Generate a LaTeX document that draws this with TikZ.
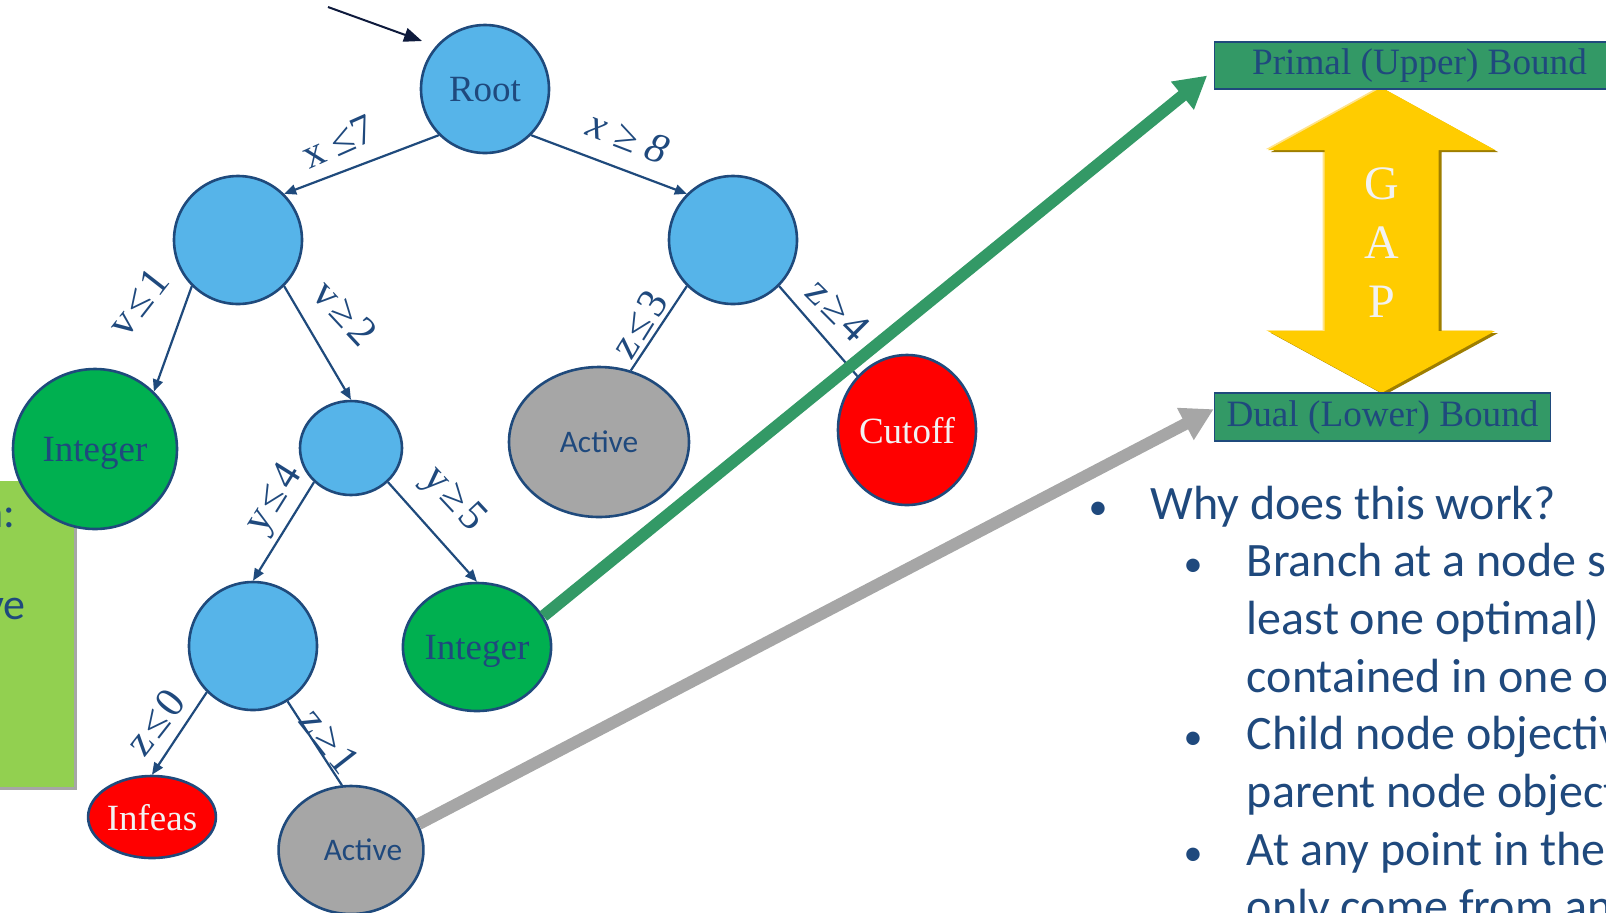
\documentclass[tikz,border=0pt]{standalone}
\usepackage{fontspec}
\setmainfont{Liberation Serif}
\newfontfamily\carlito{Carlito}
\usetikzlibrary{positioning,arrows.meta,calc,shapes.geometric,shadows}

\definecolor{nodeblue}{HTML}{56B4E9}
\definecolor{edgeblue}{HTML}{1F4A7C}
\definecolor{textblue}{HTML}{1F497D}
\definecolor{intgreen}{HTML}{00B050}
\definecolor{actgray}{HTML}{A6A6A6}
\definecolor{cutred}{HTML}{FF0000}
\definecolor{boundgreen}{HTML}{339966}
\definecolor{gapyellow}{HTML}{FFCC00}
\definecolor{gapdark}{HTML}{9E7E00}
\definecolor{gaplight}{HTML}{FFE38A}
\definecolor{notegreen}{HTML}{92D050}
\definecolor{pointernavy}{HTML}{0E1A3C}

\newcommand{\rel}[1]{\kern2pt#1\kern2pt}

\begin{document}
\begin{tikzpicture}[
  x=0.5pt, y=-0.5pt,
  sz/.style 2 args={minimum width=#1*0.5pt, minimum height=#2*0.5pt},
  bbnode/.style={ellipse, draw=edgeblue, line width=1.3pt, inner sep=0pt, text depth=0pt, text=textblue, font=\fontsize{18.5}{21}\selectfont},
  bluenode/.style={bbnode, fill=nodeblue},
  intnode/.style={bbnode, fill=intgreen},
  actnode/.style={bbnode, fill=actgray, font=\carlito\fontsize{15.7}{18}\selectfont},
  badnode/.style={bbnode, fill=cutred, text=white!95!black},
  branch/.style={draw=edgeblue, line width=1.1pt},
  branchto/.style={branch, -{Triangle[length=6pt,width=5pt]}},
  cond/.style={text=textblue, inner sep=0pt, font=\fontsize{21}{23}\selectfont},
  boundbox/.style={draw=edgeblue, line width=0.8pt, fill=boundgreen, text=textblue, inner sep=0pt, font=\fontsize{18.6}{21}\selectfont},
  bigarrow/.style={line width=6pt, -{Triangle[length=16pt,width=17pt]}},
  bulletmark/.style={anchor=base, inner sep=0pt, text=textblue, font=\carlito\fontsize{19}{28.8}\selectfont},
  bullettext/.style={anchor=base west, inner sep=0pt, text=textblue, font=\carlito\fontsize{24}{28.8}\selectfont}
]
  \useasboundingbox (0,0) rectangle (1606,912);
  \clip (0,0) rectangle (1606,912);

  % note box, cut by the left edge
  \path[fill=notegreen, drop shadow={shadow xshift=1.5pt, shadow yshift=-1.5pt, opacity=0.35, fill=black}] (-10,481) rectangle (74,787);
  \node[bullettext, anchor=base east, font=\carlito\fontsize{22}{26}\selectfont] (notea) at (16,527) {n:};
  \node[bullettext, anchor=base east, font=\carlito\fontsize{22}{26}\selectfont] (noteb) at (26,619) {ve};

  % branch and bound tree
  \node[bluenode, sz={128}{128}] (root) at (485,89) {Root};
  \node[bluenode, sz={128}{128}] (n1L) at (238,240) {};
  \node[bluenode, sz={128}{128}] (n1R) at (733,240) {};
  \node[intnode, sz={164}{160}] (intL) at (95,449) {Integer};
  \node[bluenode, sz={102}{94}] (n2) at (351,448) {};
  \node[actnode, sz={180}{150}] (actR) at (599,442) {Active};
  \node[badnode, sz={138}{150}] (cutoff) at (907,430) {Cutoff};
  \node[bluenode, sz={128}{128}] (n3) at (253,646) {};
  \node[intnode, sz={128}{128}] (intR) at (477,647) {Integer};
  \node[badnode, sz={108}{82}] (infeas) at (152,817) {Infeas};
  \node[actnode, sz={132}{128}] (actB) at (351,850) {\hspace{12pt}Active};

  \draw[branchto] (root.south west) -- (n1L.north east);
  \draw[branchto] (root.south east) -- (n1R.north west);
  \draw[branchto] (n1L.south west) -- (intL.north east);
  \draw[branchto] (n1L.south east) -- (n2.north);
  \draw[branch] (n1R.south west) -- (actR.66);
  \draw[branch] (n1R.south east) -- (cutoff.north west);
  \draw[branchto] (n2.south west) -- (n3.north);
  \draw[branchto] (n2.south east) -- (intR.north);
  \draw[branchto] (n3.south west) -- (infeas.north);
  \draw[branch] (n3.-58) -- (actB.98);

  \node[cond, rotate=24] (lx1) at (338,142) {x ≤7};
  \node[cond, rotate=-21, font=\itshape\fontsize{21}{23}\selectfont] (lx2) at (628,137) {x ≥ 8};
  \node[cond, rotate=52] (lv1) at (138,302) {v\rel{≤}1};
  \node[cond, rotate=-47] (lv2) at (345,313) {v\rel{≥}2};
  \node[cond, rotate=58] (ly1) at (275,500) {y\rel{≤}4};
  \node[cond, rotate=-47] (ly2) at (453,500) {y\rel{≥}5};
  \node[cond, rotate=58] (lz1) at (639,324) {z\rel{≤}3};
  \node[cond, rotate=-45] (lz2) at (838,310) {z\rel{≥}4};
  \node[cond, rotate=52] (lz3) at (155,722) {z\rel{≤}0};
  \node[cond, rotate=-52] (lz4) at (330,741) {z\rel{≥}1};

  \coordinate (pointerstart) at (328,7);
  \coordinate (pointerend) at (422,41);
  \draw[pointernavy, line width=1pt, -{Triangle[length=9pt,width=7pt]}] (pointerstart) -- (pointerend);

  % gap between the bounds
  \foreach \dx/\dy/\col in {-2/-1/gaplight, 3/2/gapdark, 0/0/gapyellow}
    \fill[\col, shift={(\dx,\dy)}] (1381.5,87.5) -- (1495,150) -- (1438.5,150) -- (1438.5,331) -- (1495,331)
      -- (1381.5,393) -- (1268,331) -- (1324.5,331) -- (1324.5,150) -- (1268,150) -- cycle;
  \node[align=center, inner sep=0pt, text=white!95!black, font=\fontsize{24}{29.5}\selectfont] (gap) at (1381.5,243) {G\\A\\P};

  \node[boundbox, sz={410}{47}, anchor=north west] (primal) at (1213.7,41) {Primal (Upper) Bound};
  \node[boundbox, sz={336}{48}, anchor=north west] (dual) at (1213.7,392.3) {Dual (Lower) Bound};

  \draw[bigarrow, color=boundgreen] (intR.25) -- ($(primal.south west)!0.29!(primal.north west)+(-6.5,0)$);
  \draw[bigarrow, color=actgray] (actB.21) -- ($(dual.south west)!0.66!(dual.north west)$);

  % bullets, cut by the right edge
  \node[bulletmark] (b0) at (1098,519) {•};
  \node[bullettext] (t0) at (1150,519) {Why does this work?};
  \node[bulletmark] (b1) at (1193,576.7) {•};
  \node[bullettext] (t1) at (1246.5,576.7) {Branch at a node s};
  \node[bullettext] (t2) at (1246.5,634.4) {least one optimal)};
  \node[bullettext] (t3) at (1246.5,692) {contained in one o};
  \node[bulletmark] (b4) at (1193,749.8) {•};
  \node[bullettext] (t4) at (1246.5,749.8) {Child node objectiv};
  \node[bullettext] (t5) at (1246.5,807.5) {parent node object};
  \node[bulletmark] (b6) at (1193,865.2) {•};
  \node[bullettext] (t6) at (1246.5,865.2) {At any point in the};
  \node[bullettext] (t7) at (1246.5,922.9) {only come from an};
\end{tikzpicture}
\end{document}
